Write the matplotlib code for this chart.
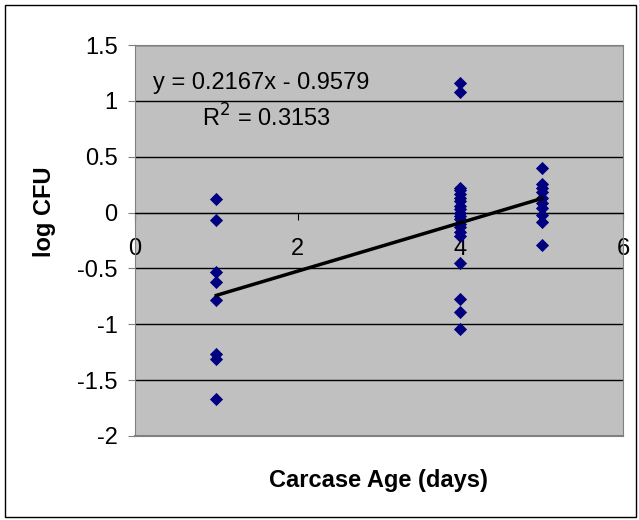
import numpy as np
import matplotlib.pyplot as plt

plt.rcParams['font.family'] = ['Liberation Sans', 'DejaVu Sans']

# carcase age (days) and log CFU readings
age_1 = [0.12, -0.07, -0.53, -0.62, -0.78, -1.27, -1.31, -1.67]
age_4 = [1.16, 1.08, 0.22, 0.20, 0.17, 0.13, 0.10, 0.06, 0.03, 0.00,
         -0.03, -0.06, -0.10, -0.13, -0.17, -0.21, -0.45, -0.77, -0.89, -1.04]
age_5 = [0.40, 0.26, 0.22, 0.18, 0.13, 0.09, 0.04, -0.02, -0.08, -0.29]

x = [1] * len(age_1) + [4] * len(age_4) + [5] * len(age_5)
y = age_1 + age_4 + age_5

slope = 0.2167
intercept = -0.9579
r2 = 0.3153

fs = 17

fig = plt.figure(figsize=(6.39, 5.2), dpi=100)
fig.patches.append(plt.Rectangle((0.008, 0.006), 0.988, 0.984, transform=fig.transFigure,
                                 fill=False, edgecolor='black', linewidth=1))
ax = fig.add_axes([135 / 639, 84 / 520, 488 / 639, 391 / 520])
ax.set_facecolor('#C0C0C0')

ax.set_xlim(0, 6)
ax.set_ylim(-2, 1.5)
ax.set_yticks(np.arange(-2, 1.51, 0.5))
ax.set_yticklabels(['-2', '-1.5', '-1', '-0.5', '0', '0.5', '1', '1.5'])
ax.set_xticks([0, 2, 4, 6])
ax.set_xticklabels(['0', '2', '4', '6'])

ax.yaxis.grid(True, color='black', linewidth=1)
ax.set_axisbelow(True)

for s in ['top', 'right']:
    ax.spines[s].set_color('#808080')
ax.spines['left'].set_color('#808080')
ax.spines['bottom'].set_position(('data', 0))
ax.spines['bottom'].set_color('black')

ax.tick_params(axis='y', direction='out', length=5, color='#808080', labelsize=fs, pad=7.5)
ax.tick_params(axis='x', direction='out', length=5, color='black', labelsize=fs, pad=13)

# frame line at bottom of the plot area
ax.axhline(-2, color='#808080', linewidth=1.5, clip_on=False)

ax.scatter(x, y, marker='D', s=45, color='#000080', zorder=3, linewidths=0)

xs = np.array([1, 5])
ax.plot(xs, slope * xs + intercept, color='black', linewidth=2.5, zorder=4)

ax.text(0.036, 0.902, 'y = %.4fx - %.4f' % (slope, -intercept), transform=ax.transAxes,
        fontsize=fs, ha='left', va='center')
ax.text(0.137, 0.813, 'R$^2$ = %.4f' % r2, transform=ax.transAxes,
        fontsize=fs, ha='left', va='center')

fig.text(378 / 639, 1 - 480 / 520, 'Carcase Age (days)', fontsize=fs, fontweight='bold',
         ha='center', va='center')
fig.text(45 / 639, 1 - 212 / 520, 'log CFU', fontsize=fs, fontweight='bold',
         ha='center', va='center', rotation=90)

fig.savefig('out.png', dpi=100)
